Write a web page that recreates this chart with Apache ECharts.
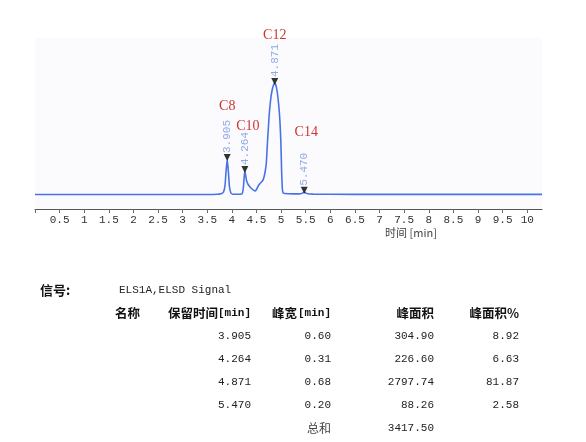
<!DOCTYPE html>
<html>
<head>
<meta charset="utf-8">
<script src="https://cdn.jsdelivr.net/npm/echarts@6/dist/echarts.min.js"></script>
<style>
html,body{margin:0;padding:0;background:#fff;}
#chart{width:586px;height:442px;}
</style>
</head>
<body>
<div id="chart"></div>
<script>
// ---- Data ----
var signalTimes = [0, 0.5, 1, 1.5, 2, 2.5, 3, 3.5, 3.7, 3.78, 3.83, 3.86, 3.88, 3.905, 3.93, 3.95, 3.98, 4.02, 4.1, 4.18, 4.215, 4.235, 4.25, 4.264, 4.28, 4.30, 4.33, 4.37, 4.41, 4.45, 4.47, 4.5, 4.54, 4.58, 4.62, 4.65, 4.68, 4.70, 4.72, 4.74, 4.76, 4.79, 4.82, 4.85, 4.871, 4.89, 4.92, 4.95, 4.975, 4.995, 5.01, 5.025, 5.04, 5.07, 5.15, 5.3, 5.40, 5.44, 5.47, 5.50, 5.54, 5.65, 6, 7, 8, 9, 10, 10.3];
var signalValues = [0, 0, 0, 0, 0, 0, 0, 0, 0.2, 0.8, 2.5, 9, 22, 35, 22, 8, 1.5, 0.3, 0.2, 0.3, 1.5, 8, 18, 23, 19, 13.5, 10, 7.5, 5.5, 3.8, 3.5, 5, 9, 11.5, 13.5, 17, 24, 32, 50, 66, 81, 96, 105, 110, 111, 110, 103, 90, 74, 52, 24, 6, 1.5, 1, 0.8, 0.6, 0.8, 1.6, 2.2, 1.6, 0.8, 0.4, 0.2, 0.1, 0.1, 0.1, 0.1, 0.1];

var peakTimes = [3.905, 4.264, 4.871, 5.470];
var peakHeights = [35, 23, 111, 2.2];
var peakLabels = ['3.905', '4.264', '4.871', '5.470'];
var peakNames = ['C8', 'C10', 'C12', 'C14'];
var peakNameLevels = [88.5, 68.5, 159.5, 62.5];

var xTicks = [0.5, 1, 1.5, 2, 2.5, 3, 3.5, 4, 4.5, 5, 5.5, 6, 6.5, 7, 7.5, 8, 8.5, 9, 9.5, 10];
var xTickMarks = [0].concat(xTicks);

var signalName = 'ELS1A,ELSD Signal';
var tableHeaders = ['名称', '保留时间', '峰宽', '峰面积', '峰面积%'];
var retTimes = ['3.905', '4.264', '4.871', '5.470'];
var peakWidths = ['0.60', '0.31', '0.68', '0.20'];
var peakAreas = ['304.90', '226.60', '2797.74', '88.26'];
var peakAreaPct = ['8.92', '6.63', '81.87', '2.58'];
var totalLabel = '总和';
var totalArea = '3417.50';

// ---- Build ----
var lineData = signalTimes.map(function (t, i) { return [t, signalValues[i]]; });
var markerData = peakTimes.map(function (t, i) { return { value: [t, peakHeights[i]], lbl: peakLabels[i] }; });
var nameOffsets = [[0, 0], [3, 0], [0, 0], [2, 0]];
var nameData = peakTimes.map(function (t, i) {
  return { value: [t, peakNameLevels[i]], label: { formatter: peakNames[i], offset: nameOffsets[i] } };
});

var MONO = '"Liberation Mono", "DejaVu Sans Mono", monospace';
var CJK = '"Noto Sans CJK SC", sans-serif';

var graphics = [];
function txt(x, y, text, font, fill, align) {
  graphics.push({ type: 'text', x: x, y: y, silent: true,
    style: { text: text, font: font, fill: fill, textAlign: align || 'left', textVerticalAlign: 'middle' } });
}
// axis name
txt(411, 233, '时间 [min]', '11px ' + CJK, '#444', 'center');
// table
txt(40, 290, '信号:', 'bold 13px ' + CJK, '#111', 'left');
txt(119, 290, signalName, '11px ' + MONO, '#222', 'left');
var hy = 313;
txt(115, hy, tableHeaders[0], 'bold 12.5px ' + CJK, '#111', 'left');
txt(218, hy, tableHeaders[1], 'bold 12.5px ' + CJK, '#111', 'right');
txt(251, hy, ' [min]', 'bold 11px ' + MONO, '#111', 'right');
txt(297, hy, tableHeaders[2], 'bold 12.5px ' + CJK, '#111', 'right');
txt(331, hy, ' [min]', 'bold 11px ' + MONO, '#111', 'right');
txt(434, hy, tableHeaders[3], 'bold 12.5px ' + CJK, '#111', 'right');
txt(519, hy, tableHeaders[4], 'bold 12.5px ' + CJK, '#111', 'right');
var rowY = [336.5, 359, 382, 405.5];
for (var i = 0; i < retTimes.length; i++) {
  txt(251, rowY[i], retTimes[i], '11px ' + MONO, '#222', 'right');
  txt(331, rowY[i], peakWidths[i], '11px ' + MONO, '#222', 'right');
  txt(434, rowY[i], peakAreas[i], '11px ' + MONO, '#222', 'right');
  txt(519, rowY[i], peakAreaPct[i], '11px ' + MONO, '#222', 'right');
}
txt(331, 428, totalLabel, '12px ' + CJK, '#444', 'right');
txt(434, 428, totalArea, '11px ' + MONO, '#222', 'right');

var chart = echarts.init(document.getElementById('chart'), null, { renderer: 'canvas' });
chart.setOption({
  animation: false,
  backgroundColor: '#ffffff',
  grid: { left: 35, right: 44, top: 38, bottom: 233, show: true, backgroundColor: '#fbfbfd', borderWidth: 0 },
  xAxis: {
    type: 'value', min: 0, max: 10.3, interval: 0.5,
    splitLine: { show: false },
    axisLine: { show: true, onZero: false, lineStyle: { color: '#555', width: 1.2 } },
    axisTick: { show: true, length: 4, customValues: xTickMarks, lineStyle: { color: '#5a6b8c', width: 1 } },
    axisLabel: { customValues: xTicks, color: '#333', fontFamily: MONO, fontSize: 11, margin: 6 }
  },
  yAxis: { type: 'value', min: -14.5, max: 156.5, show: false, splitLine: { show: false } },
  series: [
    { type: 'line', data: lineData, showSymbol: false, smooth: 0.2,
      lineStyle: { color: '#4a72e6', width: 1.6 }, silent: true, z: 2 },
    { type: 'scatter', data: markerData, symbol: 'triangle', symbolRotate: 180, symbolSize: [7, 7],
      symbolOffset: [0, -2], itemStyle: { color: '#000' }, z: 3, clip: false,
      label: { show: true, position: 'top', rotate: 90, align: 'left', verticalAlign: 'middle', distance: 0,
        offset: [1, 0],
        formatter: function (p) { return p.data.lbl; }, color: '#7893e2', fontFamily: MONO, fontSize: 11 } },
    { type: 'scatter', data: nameData, symbolSize: 0, clip: false, z: 4,
      label: { show: true, position: 'inside', color: '#c00000', fontFamily: '"Liberation Serif", "Times New Roman", serif', fontSize: 14 } }
  ],
  graphic: graphics
});
</script>
</body>
</html>
